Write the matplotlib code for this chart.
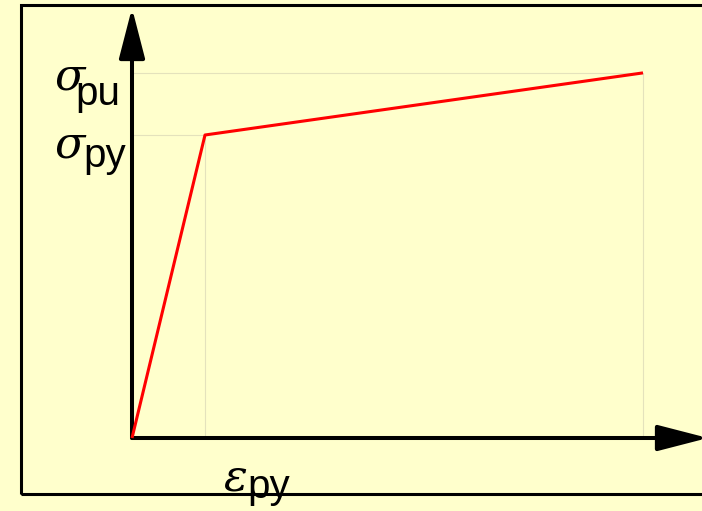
import matplotlib
matplotlib.use("Agg")
import matplotlib.pyplot as plt
from matplotlib.patches import Rectangle, FancyArrowPatch

# bilinear stress-strain model (normalised units)
strain = [0.0, 1.0, 7.0]
stress = [0.0, 1.0, 1.205]
eps_py, eps_u = strain[1], strain[2]
sig_py, sig_pu = stress[1], stress[2]

bg = "#ffffcc"
guide = "#e4e2bc"

fig = plt.figure(figsize=(7.02, 5.11), dpi=100, facecolor=bg)
ax = fig.add_axes([0, 0, 1, 1])
ax.set_facecolor(bg)
ax.set_xlim(-132 / 73, 570 / 73)
ax.set_ylim(-73 / 303, 438 / 303)
ax.axis("off")

# frame around the sketch
fig.add_artist(Rectangle((21 / 702, 17 / 511), 1.0, 489 / 511,
                         transform=fig.transFigure, fill=False,
                         edgecolor="black", linewidth=2.2, clip_on=False))

# guide lines to the key points
ax.plot([0, eps_py, eps_py], [sig_py, sig_py, 0], color=guide, lw=0.8, zorder=1)
ax.plot([0, eps_u, eps_u], [sig_pu, sig_pu, 0], color=guide, lw=0.8, zorder=1)

# axes with arrow heads
x_tip = 576 / 73
y_tip = 430 / 303
style = "-|>,head_length=31,head_width=8"
for end in [(x_tip, 0), (0, y_tip)]:
    ax.add_patch(FancyArrowPatch((0, 0), end, arrowstyle=style, mutation_scale=1,
                                 color="black", lw=2.9, shrinkA=0, shrinkB=0,
                                 zorder=3, clip_on=False))

# stress-strain curve
ax.plot(strain, stress, color="red", lw=2.2, zorder=4, solid_capstyle="butt")

sym = dict(family="DejaVu Serif", style="italic", fontsize=32, color="black")
sub = dict(family="Liberation Sans", fontsize=29, color="black")

ax.annotate("σ", xy=(0, sig_pu), xytext=(-77, -17), textcoords="offset pixels",
            ha="left", va="baseline", **sym)
ax.annotate("pu", xy=(0, sig_pu), xytext=(-57, -32), textcoords="offset pixels",
            ha="left", va="baseline", **sub)
ax.annotate("σ", xy=(0, sig_py), xytext=(-77, -22), textcoords="offset pixels",
            ha="left", va="baseline", **sym)
ax.annotate("py", xy=(0, sig_py), xytext=(-49, -32), textcoords="offset pixels",
            ha="left", va="baseline", **sub)
ax.annotate("ε", xy=(eps_py, 0), xytext=(18, -52), textcoords="offset pixels",
            ha="left", va="baseline", **sym)
ax.annotate("py", xy=(eps_py, 0), xytext=(42, -60), textcoords="offset pixels",
            ha="left", va="baseline", **sub)

fig.savefig("out.png", dpi=100, facecolor=bg)
